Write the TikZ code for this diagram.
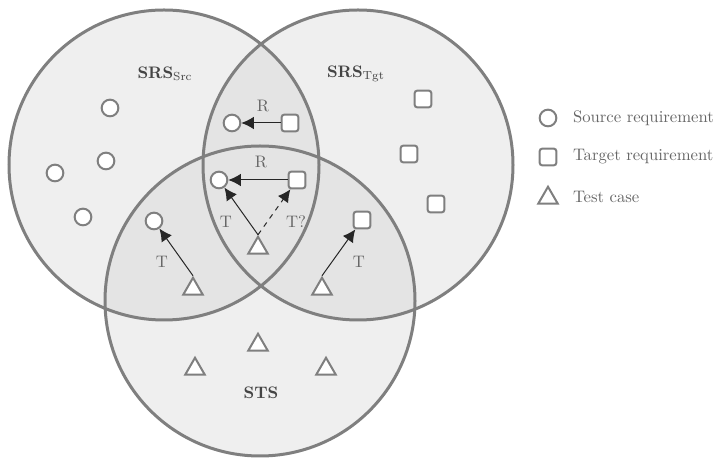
\documentclass[tikz,border=0pt]{standalone}
\usetikzlibrary{shapes.geometric,arrows.meta}
\definecolor{edge}{HTML}{7F7F7F}
\definecolor{single}{HTML}{EFEFEF}
\definecolor{overlap}{HTML}{E4E4E4}
\definecolor{lbl}{HTML}{666666}
\definecolor{ttl}{HTML}{444444}
\begin{document}
\begin{tikzpicture}[x=0.6pt,y=-0.6pt,
  req/.style={circle,draw=edge,fill=white,line width=1.2pt,minimum size=10pt,inner sep=0pt},
  tgt/.style={rectangle,rounded corners=1.5pt,draw=edge,fill=white,line width=1.2pt,minimum size=10pt,inner sep=0pt},
  tc/.style={regular polygon,regular polygon sides=3,draw=edge,fill=white,line width=1.2pt,minimum size=13.5pt,inner sep=0pt},
  link/.style={draw=black!85,line width=0.6pt,-{Latex[length=7.5pt,width=7.5pt]}},
  lab/.style={text=lbl,inner sep=1pt},
  ttlstyle/.style={text=ttl,inner sep=1pt},
  setline/.style={draw=edge,line width=1.8pt}]
\useasboundingbox (0,0) rectangle (716,459);
\coordinate (A) at (164,165);
\coordinate (B) at (358,165);
\coordinate (C) at (260,301);
% fills
\fill[single] (A) circle[radius=155];
\fill[single] (B) circle[radius=155];
\fill[single] (C) circle[radius=155];
\begin{scope}
  \clip (A) circle[radius=155];
  \fill[overlap] (B) circle[radius=155];
  \fill[overlap] (C) circle[radius=155];
\end{scope}
\begin{scope}
  \clip (B) circle[radius=155];
  \fill[overlap] (C) circle[radius=155];
\end{scope}
\draw[setline] (A) circle[radius=155];
\draw[setline] (B) circle[radius=155];
\draw[setline] (C) circle[radius=155];
% set labels
\node[ttlstyle] (lsrc) at (165,74) {$\mathbf{SRS}_{\mathrm{Src}}$};
\node[ttlstyle] (ltgt) at (356,74) {$\mathbf{SRS}_{\mathrm{Tgt}}$};
\node[ttlstyle] (lsts) at (261,393) {\textbf{STS}};
% source requirements only
\node[req] (r1) at (110,108) {};
\node[req] (r2) at (106,161) {};
\node[req] (r3) at (55,173) {};
\node[req] (r4) at (83,217) {};
% target requirements only
\node[tgt] (s1) at (423,99) {};
\node[tgt] (s2) at (409,154) {};
\node[tgt] (s3) at (436,204) {};
% lens top
\node[req] (r5) at (232,123) {};
\node[tgt] (s4) at (290,123) {};
\draw[link] (s4) -- (r5);
\node[lab] (lR1) at (263,106) {R};
% centre
\node[req] (r6) at (219,180) {};
\node[tgt] (s5) at (297,180) {};
\draw[link] (s5) -- (r6);
\node[lab] (lR2) at (261,162) {R};
\node[tc] (t1) at (258,248) {};
\draw[link] (t1.corner 1) -- (r6);
\draw[link,dashed] (t1.corner 1) -- (s5);
\node[lab] (lT1) at (226,222) {T};
\node[lab] (lT2) at (296,222) {T?};
% left
\node[req] (r7) at (154,221) {};
\node[tc] (t2) at (193,289) {};
\draw[link] (t2.corner 1) -- (r7);
\node[lab] (lT3) at (162,262) {T};
% right
\node[tgt] (s6) at (362,220) {};
\node[tc] (t3) at (322,289) {};
\draw[link] (t3.corner 1) -- (s6);
\node[lab] (lT4) at (359,262) {T};
% STS only
\node[tc] (t4) at (258,345) {};
\node[tc] (t5) at (195,369) {};
\node[tc] (t6) at (326,369) {};
% legend
\node[req] (g1) at (548,118) {};
\node[tgt] (g2) at (548,157) {};
\node[tc] (g3) at (548,198) {};
\node[lab,anchor=west] (gt1) at (571,118) {Source requirement};
\node[lab,anchor=west] (gt2) at (571,157) {Target requirement};
\node[lab,anchor=west] (gt3) at (571,197) {Test case};
\end{tikzpicture}
\end{document}
